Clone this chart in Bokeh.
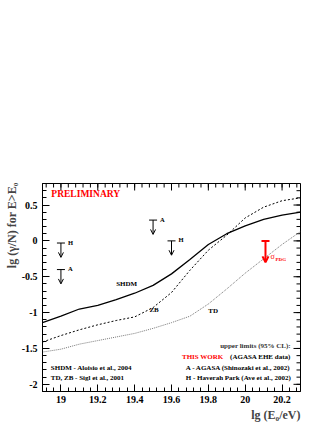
import numpy as np
from bokeh.plotting import figure
from bokeh.models import (ColumnDataSource, Range1d, LinearAxis, FixedTicker,
                          Label, Arrow, OpenHead, Title)
from bokeh.core.properties import value
from bokeh.embed import file_html
from bokeh.resources import INLINE

# ---------------- data ----------------
lg_e0 = [18.9, 19.0, 19.1, 19.2, 19.3, 19.4, 19.5, 19.6, 19.7, 19.8, 19.9, 20.0, 20.1, 20.2, 20.3]
shdm = [-1.14, -1.05, -0.95, -0.90, -0.82, -0.73, -0.62, -0.46, -0.26, -0.05, 0.10, 0.21, 0.30, 0.36, 0.40]
zb = [-1.41, -1.32, -1.24, -1.17, -1.11, -1.06, -0.93, -0.72, -0.41, -0.13, 0.08, 0.32, 0.47, 0.56, 0.60]
td = [-1.55, -1.51, -1.44, -1.39, -1.34, -1.29, -1.22, -1.14, -1.05, -0.88, -0.67, -0.45, -0.25, -0.05, 0.13]

# upper limits (other experiments)
ul_x = [19.0, 19.0, 19.5, 19.6]
ul_y = [-0.03, -0.40, 0.29, 0.0]
ul_lab = ["H", "A", "A", "H"]

# this work
tw_x = [20.11]
tw_y = [0.0]

x_ticks = [19.0, 19.2, 19.4, 19.6, 19.8, 20.0, 20.2]
x_tick_labels = ["19", "19.2", "19.4", "19.6", "19.8", "20", "20.2"]
y_ticks = [-2.0, -1.5, -1.0, -0.5, 0.0, 0.5]
y_tick_labels = ["-2", "-1.5", "-1", "-0.5", "0", "0.5"]

X_RANGE = (18.9, 20.3)
Y_RANGE = (-2.1, 0.8)

# ---------------- styling ----------------
FONT_NAME = "Liberation Serif"
FONT = value(FONT_NAME)
UL_LEN = 0.2     # arrow length (style)
TW_LEN = 0.3
MAJ, MIN = 7, 4  # inward tick lengths in px

p = figure(width=324, height=422, output_backend="svg", toolbar_location=None,
           x_range=Range1d(*X_RANGE), y_range=Range1d(*Y_RANGE),
           min_border_left=42, min_border_right=24, min_border_top=183,
           min_border_bottom=31, x_axis_location=None, y_axis_location=None)
p.grid.visible = False
p.outline_line_color = "black"
p.outline_line_width = 1
p.background_fill_color = "white"
p.border_fill_color = "white"

x_minor = [round(v, 2) for v in np.arange(18.92, 20.3, 0.04)]
y_minor = [round(v, 1) for v in np.arange(-2.1, 0.81, 0.1)]


def style_axis(ax):
    ax.major_tick_in = MAJ
    ax.major_tick_out = 0
    ax.minor_tick_in = MIN
    ax.minor_tick_out = 0
    ax.axis_line_color = "black"
    ax.major_tick_line_color = "black"
    ax.minor_tick_line_color = "black"
    ax.major_label_text_font = FONT_NAME
    ax.major_label_text_font_style = "bold"
    ax.major_label_text_color = "black"
    ax.major_label_text_font_size = "10px"


xax = LinearAxis(ticker=FixedTicker(ticks=x_ticks, minor_ticks=x_minor))
style_axis(xax)
xax.major_label_standoff = 4
xax.major_label_overrides = dict(zip(x_ticks, x_tick_labels))
p.add_layout(xax, "below")

yax = LinearAxis(ticker=FixedTicker(ticks=y_ticks, minor_ticks=y_minor))
style_axis(yax)
yax.major_label_standoff = 5
yax.major_label_overrides = dict(zip(y_ticks, y_tick_labels))
p.add_layout(yax, "left")

# inward ticks on top and right frame edges (dash markers centred on the edge, clipped by frame)
p.scatter(x_ticks, [Y_RANGE[1]] * len(x_ticks), marker="dash", angle=np.pi / 2,
          size=2 * MAJ, line_color="black", line_width=1)
p.scatter(x_minor, [Y_RANGE[1]] * len(x_minor), marker="dash", angle=np.pi / 2,
          size=2 * MIN, line_color="black", line_width=1)
p.scatter([X_RANGE[1]] * len(y_ticks), y_ticks, marker="dash",
          size=2 * MAJ, line_color="black", line_width=1)
p.scatter([X_RANGE[1]] * len(y_minor), y_minor, marker="dash",
          size=2 * MIN, line_color="black", line_width=1)

# ---------------- curves ----------------
src = ColumnDataSource(dict(x=lg_e0, shdm=shdm, zb=zb, td=td))
p.line("x", "td", source=src, line_color="#777777", line_width=1, line_dash="1 1")
p.line("x", "zb", source=src, line_color="black", line_width=1, line_dash="2 2")
p.line("x", "shdm", source=src, line_color="black", line_width=1.3)

# ---------------- upper limit arrows ----------------
ul_src = ColumnDataSource(dict(x=ul_x, y=ul_y, ye=[v - UL_LEN for v in ul_y], lab=ul_lab))
p.scatter("x", "y", source=ul_src, marker="dash", size=8, line_color="black", line_width=1)
p.add_layout(Arrow(end=OpenHead(size=5, line_width=1, line_color="black"),
                   x_start="x", y_start="y", x_end="x", y_end="ye", source=ul_src,
                   line_width=1, line_color="black"))
p.text("x", "y", text="lab", source=ul_src, x_offset=7, y_offset=-1,
       text_font=FONT, text_font_style="bold", text_font_size="6.5px",
       text_baseline="middle", text_align="left", text_color="black")

tw_src = ColumnDataSource(dict(x=tw_x, y=tw_y, ye=[v - TW_LEN for v in tw_y]))
p.scatter("x", "y", source=tw_src, marker="dash", size=8, line_color="red", line_width=2)
p.add_layout(Arrow(end=OpenHead(size=6, line_width=2, line_color="red"),
                   x_start="x", y_start="y", x_end="x", y_end="ye", source=tw_src,
                   line_width=2, line_color="red"))
p.text("x", "y", text=value("σ"), source=tw_src, x_offset=5, y_offset=16,
       text_font=FONT, text_font_size="8px", text_baseline="middle", text_color="red")
p.text("x", "y", text=value("PDG"), source=tw_src, x_offset=10, y_offset=18.5,
       text_font=FONT, text_font_style="bold", text_font_size="5px",
       text_baseline="middle", text_color="red")

# ---------------- in-frame texts ----------------
def txt(x, y, s, size="7px", color="black", align="left"):
    p.add_layout(Label(x=x, y=y, text=s, text_font=FONT_NAME, text_font_style="bold",
                       text_font_size=size, text_color=color, text_align=align,
                       text_baseline="middle"))

txt(18.948, 0.65, "PRELIMINARY", size="9.5px", color="red")
txt(19.30, -0.60, "SHDM")
txt(19.48, -0.96, "ZB")
txt(19.80, -0.98, "TD")
txt(18.945, -1.77, "SHDM - Aloisio et al., 2004")
txt(18.945, -1.915, "TD, ZB - Sigl et al., 2001")
txt(20.247, -1.465, "upper limits (95% CL):", color="#333333", align="right")
txt(19.657, -1.615, "THIS WORK", color="red")
txt(20.247, -1.615, "(AGASA EHE data)", align="right")
txt(20.247, -1.77, "A - AGASA (Shinozaki et al., 2002)", align="right")
txt(20.247, -1.915, "H - Haverah Park (Ave et al., 2002)", align="right")

# ---------------- axis titles ----------------
p.add_layout(Title(text="lg (E₀/eV)", align="right", standoff=0,
                   text_font=FONT_NAME, text_font_style="bold", text_font_size="12px"),
             "below")
p.add_layout(Title(text="lg (γ/N) for E>E₀", align="right", standoff=0, offset=-1,
                   text_font=FONT_NAME, text_font_style="bold", text_font_size="12px"),
             "left")

open("out.html", "w").write(file_html(p, INLINE))
